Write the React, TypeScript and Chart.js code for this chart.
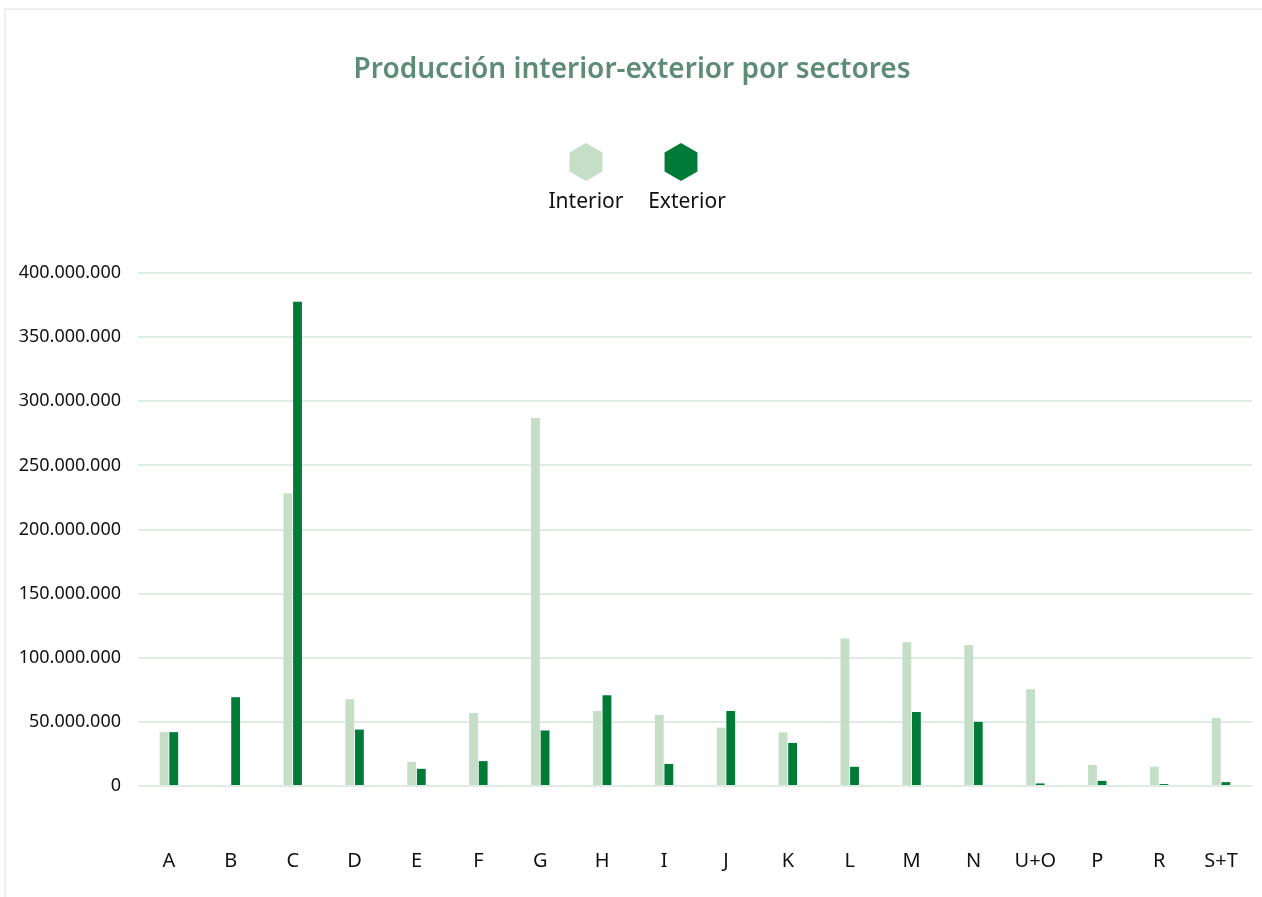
import React, { useEffect, useRef } from "react";
import { Chart, registerables } from "chart.js";

Chart.register(...registerables);

const categories = ["A", "B", "C", "D", "E", "F", "G", "H", "I", "J", "K", "L", "M", "N", "U+O", "P", "R", "S+T"];
const interiorValues = [42000000, 0, 228000000, 67700000, 18700000, 57000000, 287000000, 58500000, 55400000, 45500000, 41800000, 115000000, 112000000, 110000000, 75400000, 16400000, 15000000, 53000000];
const exteriorValues = [42000000, 69200000, 377600000, 44000000, 13400000, 19400000, 43300000, 70800000, 17200000, 58500000, 33600000, 15000000, 57700000, 50000000, 2000000, 4000000, 1500000, 3000000];
const seriesNames = ["Interior", "Exterior"];
const seriesColors = ["#c5dec8", "#007a37"];
const titleText = "Producción interior-exterior por sectores";

const FONT = "'Noto Sans', 'Open Sans', sans-serif";

function hexagon(ctx: CanvasRenderingContext2D, cx: number, cy: number, r: number) {
  ctx.beginPath();
  for (let i = 0; i < 6; i++) {
    const a = -Math.PI / 2 + (i * Math.PI) / 3;
    const x = cx + r * Math.cos(a);
    const y = cy + r * Math.sin(a);
    if (i === 0) ctx.moveTo(x, y);
    else ctx.lineTo(x, y);
  }
  ctx.closePath();
}

const headerPlugin = {
  id: "header",
  afterDraw(chart: any) {
    const ctx: CanvasRenderingContext2D = chart.ctx;
    ctx.save();
    ctx.fillStyle = "#5e8b77";
    ctx.font = `600 28px ${FONT}`;
    ctx.textAlign = "center";
    ctx.textBaseline = "middle";
    ctx.fillText(titleText, 632, 70);
    const centers = [586, 687];
    const hexX = [586, 681];
    chart.data.datasets.forEach((ds: any, i: number) => {
      ctx.fillStyle = ds.backgroundColor;
      hexagon(ctx, hexX[i], 162, 19);
      ctx.fill();
      ctx.fillStyle = "#111";
      ctx.font = `400 21px ${FONT}`;
      ctx.fillText(ds.label, centers[i], 202);
    });
    ctx.restore();
  },
};

export default function App() {
  const ref = useRef<HTMLCanvasElement | null>(null);
  useEffect(() => {
    if (!ref.current) return;
    const chart = new Chart(ref.current, {
      type: "bar",
      data: {
        labels: categories,
        datasets: [
          { label: seriesNames[0], data: interiorValues, backgroundColor: seriesColors[0], categoryPercentage: 0.31, barPercentage: 0.92 },
          { label: seriesNames[1], data: exteriorValues, backgroundColor: seriesColors[1], categoryPercentage: 0.31, barPercentage: 0.92 },
        ],
      },
      options: {
        animation: false,
        responsive: true,
        maintainAspectRatio: false,
        layout: { padding: { top: 273, left: 0, right: 10, bottom: 0 } },
        plugins: { legend: { display: false }, title: { display: false }, tooltip: { enabled: false } },
        scales: {
          x: {
            grid: { display: false },
            border: { display: false },
            ticks: { color: "#111", font: { family: FONT, size: 20 }, padding: 55, maxRotation: 0, autoSkip: false },
            afterFit: (s: any) => {
              s.paddingLeft = 0;
              s.paddingRight = 0;
              s.height = 111;
            },
          },
          y: {
            min: 0,
            max: 400000000,
            ticks: {
              stepSize: 50000000,
              color: "#111",
              font: { family: FONT, size: 18 },
              padding: 17,
              callback: (v: any) => Number(v).toLocaleString("de-DE"),
            },
            grid: { color: "#dfece3", lineWidth: 2, drawTicks: false },
            border: { display: false },
            afterFit: (s: any) => {
              s.width = 138;
            },
          },
        },
      },
      plugins: [headerPlugin],
    });
    return () => chart.destroy();
  }, []);
  return (
    <div style={{ position: "fixed", left: 0, top: 0, width: 1262, height: 897, background: "#fff", overflow: "hidden" }}>
      <div style={{ position: "absolute", left: 4, top: 8, width: 1300, height: 1000, border: "2px solid #efefef", boxSizing: "border-box" }} />
      <div style={{ position: "absolute", left: 0, top: 0, width: 1262, height: 897 }}>
        <canvas ref={ref} />
      </div>
    </div>
  );
}
